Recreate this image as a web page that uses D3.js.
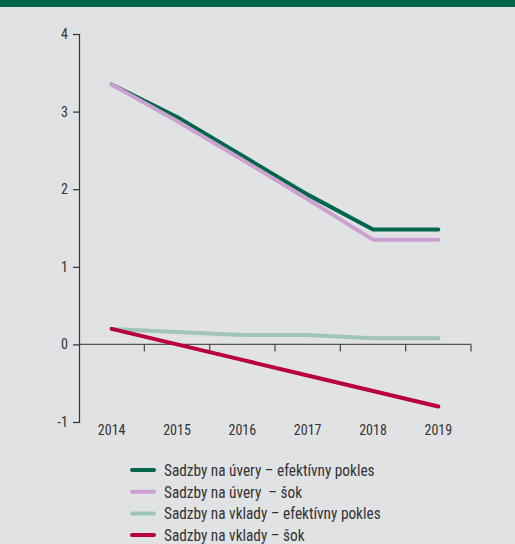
<!DOCTYPE html>
<html>
<head>
<meta charset="utf-8">
<script src="https://cdn.jsdelivr.net/npm/d3@7"></script>
<style>
  html, body { margin: 0; padding: 0; background: #e1e2e4; }
  svg { display: block; }
  text { font-family: "Roboto Condensed", "Liberation Sans Narrow", sans-serif; fill: #333; }
</style>
</head>
<body>
<svg id="chart" width="515" height="544"></svg>
<script>
// Years on the horizontal axis
const years = ["2014", "2015", "2016", "2017", "2018", "2019"];

// Interest rate paths (%)
const loansEffective = [3.35, 2.93, 2.43, 1.93, 1.48, 1.48];
const loansShock = [3.35, 2.88, 2.38, 1.87, 1.35, 1.35];
const depositsEffective = [0.2, 0.16, 0.12, 0.12, 0.08, 0.08];
const depositsShock = [0.2, 0.0, -0.2, -0.4, -0.6, -0.8];

// Value axis ticks and their printed labels
const yTicks = [-1, 0, 1, 2, 3, 4];
const yTickLabels = ["-1", "0", "1", "2", "3", "4"];

// Series labels
const seriesNames = [
  "Sadzby na úvery – efektívny pokles",
  "Sadzby na úvery  – šok",
  "Sadzby na vklady – efektívny pokles",
  "Sadzby na vklady – šok"
];

const seriesValues = [loansEffective, loansShock, depositsEffective, depositsShock];
const seriesColors = ["#00654a", "#cca0cf", "#9fc5b7", "#b8003e"];

const fontStack = "'Roboto Condensed', 'Liberation Sans Narrow', sans-serif";

const svg = d3.select("#chart");

// Header band
svg.append("rect").attr("x", 0).attr("y", 0).attr("width", 515).attr("height", 7).attr("fill", "#00654b");

const x = d3.scaleBand().domain(years).range([79, 471]);
const y = d3.scaleLinear().domain([-1, 4]).range([422, 34]);

// Horizontal axis at zero, with ticks on the band edges
const xAxisG = svg.append("g");
xAxisG.append("line")
  .attr("x1", x.range()[0]).attr("x2", x.range()[1])
  .attr("y1", y(0)).attr("y2", y(0))
  .attr("stroke", "#555").attr("stroke-width", 1.2);
const edges = years.map(d => x(d)).concat([x.range()[1]]);
xAxisG.selectAll("line.tick").data(edges.slice(1)).join("line")
  .attr("class", "tick")
  .attr("x1", d => d).attr("x2", d => d)
  .attr("y1", y(0)).attr("y2", y(0) + 7)
  .attr("stroke", "#444").attr("stroke-width", 1.2);
xAxisG.selectAll("text").data(years).join("text")
  .attr("x", d => x(d) + x.bandwidth() / 2)
  .attr("y", 435)
  .attr("text-anchor", "middle")
  .attr("font-size", 14)
  .text(d => d);

// Vertical axis
const yAxis = d3.axisLeft(y).tickValues(yTicks).tickSize(6).tickPadding(5)
  .tickFormat((d, i) => yTickLabels[i]);
const yAxisG = svg.append("g").attr("transform", `translate(${x.range()[0]},0)`).call(yAxis);
yAxisG.select(".domain").attr("stroke", "#333").attr("stroke-width", 1.2);
yAxisG.selectAll(".tick line").attr("stroke", "#333").attr("stroke-width", 1.2);
yAxisG.selectAll(".tick text").attr("font-size", 14).attr("fill", "#333")
  .attr("font-family", fontStack);

// Lines
const line = d3.line()
  .x((d, i) => x(years[i]) + x.bandwidth() / 2)
  .y(d => y(d));

svg.append("g").selectAll("path").data(seriesValues).join("path")
  .attr("d", d => line(d))
  .attr("fill", "none")
  .attr("stroke", (d, i) => seriesColors[i])
  .attr("stroke-width", 4)
  .attr("stroke-linejoin", "round")
  .attr("stroke-linecap", "round");

// Legend: tall, tightly set lettering
const legend = svg.append("g");
const rows = legend.selectAll("g").data(seriesNames).join("g")
  .attr("transform", (d, i) => `translate(0,${470 + i * 21.7})`);
rows.append("line")
  .attr("x1", 132).attr("x2", 154).attr("y1", 0).attr("y2", 0)
  .attr("stroke", (d, i) => seriesColors[i])
  .attr("stroke-width", 4)
  .attr("stroke-linecap", "round");
rows.append("text")
  .attr("transform", "translate(164,6) scale(0.9,1)")
  .attr("font-size", 17)
  .style("white-space", "pre")
  .text(d => d);
</script>
</body>
</html>
